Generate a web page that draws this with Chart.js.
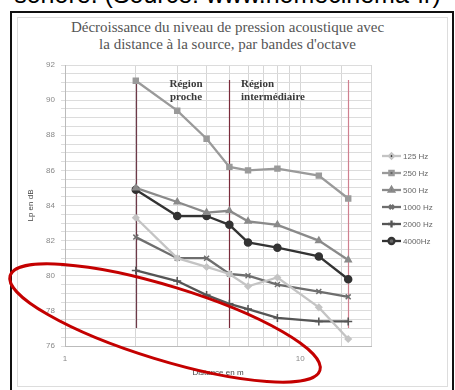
<!DOCTYPE html>
<html>
<head>
<meta charset="utf-8">
<script src="https://cdn.jsdelivr.net/npm/chart.js@4"></script>
<style>
  html, body { margin: 0; padding: 0; background: #fff; overflow: hidden; }
  body { width: 455px; height: 390px; position: relative; }
  #top-text { position: absolute; left: 0; width: 455px; top: -18px; text-align: center;
    font: 25px "Liberation Sans", Arial, sans-serif; color: #000; line-height: 25px; white-space: nowrap; }
  #frame { position: absolute; left: 10px; top: 11px; width: 440px; height: 400px; border: 2px solid #111; }
  #inner { position: absolute; left: 17px; top: 17px; width: 429px; height: 368px; border: 1px solid #ddd; }
  #title { position: absolute; left: 0; width: 455px; top: 19px; text-align: center;
    font: 15px "Liberation Serif", "DejaVu Serif", serif; color: #555; line-height: 17px; }
  canvas { position: absolute; left: 0; top: 0; }
</style>
</head>
<body>
<div id="top-text">sonore. (Source: www.homecinema-fr)</div>
<div id="frame"></div>
<div id="inner"></div>
<div id="title">Décroissance du niveau de pression acoustique avec<br>la distance à la source, par bandes d'octave</div>
<canvas id="chart" width="455" height="390"></canvas>
<script>
// distances in m (log axis)
const distances = [2, 3, 4, 5, 6, 8, 12, 16];
const bandLabels = ['125 Hz', '250 Hz', '500 Hz', '1000 Hz', '2000 Hz', '4000Hz'];
const lp125  = [83.3, 81.0, 80.5, 80.1, 79.4, 79.9, 78.2, 76.4];
const lp250  = [91.1, 89.4, 87.8, 86.2, 86.0, 86.1, 85.7, 84.4];
const lp500  = [85.0, 84.2, 83.6, 83.7, 83.1, 82.9, 82.0, 80.9];
const lp1000 = [82.2, 81.0, 81.0, 80.1, 80.0, 79.5, 79.1, 78.8];
const lp2000 = [80.3, 79.7, 78.9, 78.4, 78.1, 77.6, 77.4, 77.4];
const lp4000 = [84.9, 83.4, 83.4, 82.9, 81.9, 81.6, 81.1, 79.8];
const xTickLabels = [1, 10];
const yTickLabels = [76, 78, 80, 82, 84, 86, 88, 90, 92];
const regionBounds = [2, 5, 16];

const series = [lp125, lp250, lp500, lp1000, lp2000, lp4000];
const colors = ['#c4c4c4', '#9a9a9a', '#8a8a8a', '#6e6e6e', '#555555', '#333333'];
const markers = ['rectRot', 'rect', 'triangle', 'crossRot', 'cross', 'circle'];
const sizes = [3, 3.5, 3.5, 3.5, 4, 3.5];

const datasets = series.map((vals, i) => ({
    label: bandLabels[i],
    data: vals.map((v, j) => ({ x: distances[j], y: v })),
    borderColor: colors[i],
    backgroundColor: colors[i],
    pointStyle: markers[i],
    pointRadius: sizes[i],
    pointBorderWidth: 1.5,
    borderWidth: 2.3,
    tension: 0
}));

// region separators + labels
const regionPlugin = {
    id: 'regions',
    beforeDatasetsDraw(chart) {
        const { ctx, scales: { x } } = chart;
        const lineColors = ['#6e3a48', '#7a2a3a', '#d08090'];
        ctx.save();
        ctx.lineWidth = 1.2;
        regionBounds.forEach((d, i) => {
            const px = Math.round(x.getPixelForValue(d)) + 0.5;
            ctx.strokeStyle = lineColors[i];
            ctx.beginPath();
            ctx.moveTo(px, 80);
            ctx.lineTo(px, 328);
            ctx.stroke();
        });
        ctx.fillStyle = '#3a3a3a';
        ctx.font = 'bold 11px "Liberation Serif", "DejaVu Serif", serif';
        ctx.textAlign = 'center';
        ctx.fillText('Région', 186, 87);
        ctx.fillText('proche', 186, 100);
        ctx.textAlign = 'left';
        ctx.fillText('Région', 241, 87);
        ctx.fillText('intermédiaire', 241, 100);
        ctx.restore();
    }
};

// legend on the right, line + marker like the original
const legendPlugin = {
    id: 'sideLegend',
    afterDraw(chart) {
        const { ctx } = chart;
        ctx.save();
        chart.data.datasets.forEach((ds, i) => {
            const y = 156 + i * 17;
            ctx.strokeStyle = ds.borderColor;
            ctx.lineWidth = 2.3;
            ctx.beginPath();
            ctx.moveTo(382, y);
            ctx.lineTo(401, y);
            ctx.stroke();
            Chart.helpers.drawPoint(ctx, {
                pointStyle: ds.pointStyle, radius: ds.pointRadius - 0.5, borderWidth: 1.5, rotation: 0
            }, 391.5, y);
            ctx.fillStyle = '#666';
            ctx.font = '8px "Liberation Sans", Arial, sans-serif';
            ctx.textAlign = 'left';
            ctx.textBaseline = 'middle';
            ctx.fillText(ds.label, 403, y + 0.5);
        });
        ctx.restore();
    }
};

// hand-drawn red ellipse over the lower left
const ellipsePlugin = {
    id: 'ellipse',
    afterDraw(chart) {
        const { ctx } = chart;
        ctx.save();
        ctx.strokeStyle = '#c40000';
        ctx.lineWidth = 3;
        ctx.beginPath();
        ctx.ellipse(165, 323, 162, 37, 17 * Math.PI / 180, 0, 2 * Math.PI);
        ctx.stroke();
        ctx.restore();
    }
};

new Chart(document.getElementById('chart'), {
    type: 'line',
    data: { datasets },
    options: {
        responsive: false,
        animation: false,
        layout: { padding: { left: 26, right: 84, top: 65, bottom: 12 } },
        plugins: { legend: { display: false }, title: { display: false }, tooltip: { enabled: false } },
        scales: {
            x: {
                type: 'logarithmic',
                min: 1, max: 20,
                afterFit: s => { s.height = 32; },
                grid: { color: '#d6d6d6', lineWidth: 1, drawTicks: false },
                border: { color: '#bbb' },
                ticks: {
                    autoSkip: false, maxRotation: 0, padding: 8,
                    color: '#888', font: { size: 8, family: '"Liberation Sans", Arial, sans-serif' },
                    callback: v => xTickLabels.includes(v) ? String(v) : ''
                },
                title: { display: true, text: 'Distance en m', color: '#444', padding: 0,
                    font: { size: 8, family: '"Liberation Sans", Arial, sans-serif' } }
            },
            y: {
                min: 76, max: 92,
                afterFit: s => { s.width = 39; },
                grid: { color: '#dcdcdc', lineWidth: 1, tickLength: 4 },
                border: { color: '#bbb' },
                ticks: {
                    stepSize: 0.5, autoSkip: false, padding: 6,
                    color: '#888', font: { size: 8, family: '"Liberation Sans", Arial, sans-serif' },
                    callback: v => yTickLabels.includes(v) ? String(v) : ''
                },
                title: { display: true, text: 'Lp en dB', color: '#444', padding: 0,
                    font: { size: 8, family: '"Liberation Sans", Arial, sans-serif' } }
            }
        }
    },
    plugins: [regionPlugin, legendPlugin, ellipsePlugin]
});
</script>
</body>
</html>
